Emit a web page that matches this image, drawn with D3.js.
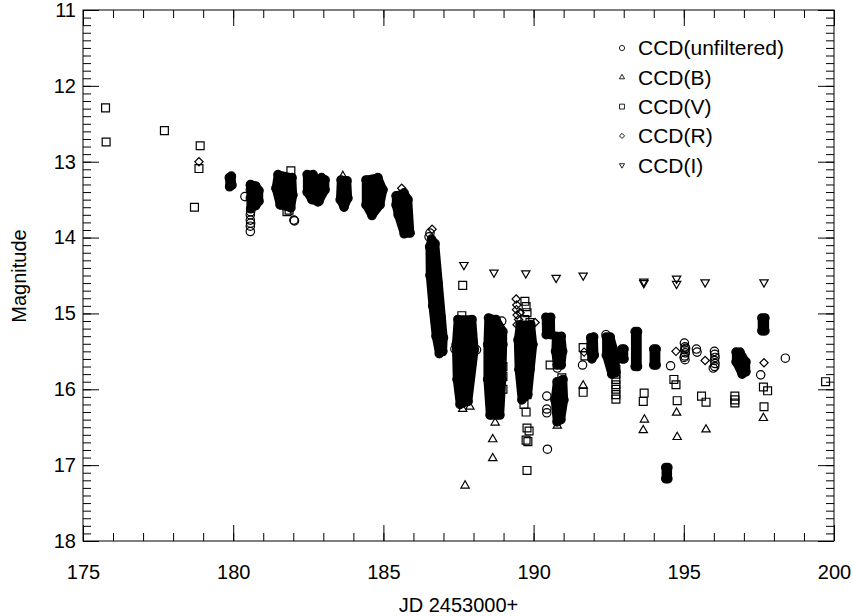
<!doctype html>
<html>
<head>
<meta charset="UTF-8">
<title>light curve</title>
<script src="https://d3js.org/d3.v7.min.js"></script>
<style>
  body{ margin:0; background:#fff; }
  svg text{ font-family: "Liberation Sans", Arial, Helvetica, sans-serif; font-size:20px; fill:#000; }
</style>
</head>
<body>
<svg width="854" height="616" id="svg1"></svg>
<script>
// axis setup
var xDomain = [175, 200];
var yDomain = [11, 18];
var xTicks = [175, 180, 185, 190, 195, 200];
var yTicks = [11, 12, 13, 14, 15, 16, 17, 18];
var xTitle = "JD 2453000+";
var yTitle = "Magnitude";
var legendLabels = ["CCD(unfiltered)", "CCD(B)", "CCD(V)", "CCD(R)", "CCD(I)"];

// unfiltered CCD: dense nightly runs (outline of the observations, [JD, mag])
var unfilteredRuns = [
  [[179.87,13.21],[179.94,13.19],[179.96,13.31],[179.88,13.33]],
  [[180.58,13.30],[180.75,13.32],[180.86,13.38],[180.86,13.52],[180.75,13.58],[180.58,13.62]],
  [[181.49,13.17],[181.42,13.35],[181.56,13.57],[181.92,13.61],[181.99,13.44],[181.96,13.21]],
  [[182.46,13.17],[182.66,13.17],[182.78,13.30],[182.82,13.53],[182.62,13.50],[182.46,13.40]],
  [[182.94,13.21],[183.06,13.24],[183.06,13.37],[182.86,13.52],[182.80,13.30]],
  [[183.59,13.24],[183.79,13.25],[183.82,13.48],[183.69,13.60],[183.56,13.50]],
  [[184.42,13.24],[184.82,13.21],[184.99,13.37],[184.89,13.57],[184.62,13.71],[184.42,13.57]],
  [[185.42,13.45],[185.69,13.41],[185.82,13.50],[185.89,13.94],[185.69,13.95],[185.49,13.70],[185.42,13.57]],
  [[186.60,14.02],[186.72,14.08],[186.82,14.60],[186.92,15.05],[187.00,15.32],[186.98,15.50],[186.86,15.53],[186.75,15.30],[186.64,14.90],[186.55,14.50],[186.54,14.12]],
  [[187.48,15.08],[187.95,15.08],[188.03,15.48],[187.88,15.87],[187.82,16.16],[187.55,16.20],[187.45,15.87],[187.42,15.41]],
  [[188.50,15.06],[188.75,15.08],[188.98,15.24],[188.98,15.41],[188.95,15.87],[188.88,16.34],[188.55,16.34],[188.47,15.87],[188.47,15.41]],
  [[189.55,15.15],[189.91,15.15],[189.98,15.41],[189.88,15.74],[189.81,16.07],[189.61,16.14],[189.51,15.74],[189.48,15.35]],
  [[190.41,15.05],[190.57,15.05],[190.58,15.28],[190.42,15.28]],
  [[190.75,15.30],[190.92,15.30],[190.97,15.50],[190.92,15.68],[190.78,15.68],[190.73,15.50]],
  [[190.78,15.90],[190.98,15.87],[191.01,16.14],[190.91,16.40],[190.78,16.43],[190.71,16.14]],
  [[191.90,15.32],[192.00,15.31],[192.02,15.55],[191.94,15.60],[191.90,15.50]],
  [[192.42,15.31],[192.55,15.31],[192.72,15.55],[192.74,15.78],[192.60,15.80],[192.42,15.55]],
  [[192.94,15.47],[193.01,15.47],[193.01,15.60],[192.94,15.60]],
  [[193.38,15.24],[193.46,15.24],[193.46,15.70],[193.38,15.70]],
  [[194.00,15.47],[194.08,15.47],[194.08,15.68],[194.00,15.68]],
  [[194.40,17.03],[194.47,17.03],[194.47,17.18],[194.40,17.18]],
  [[196.74,15.51],[196.87,15.51],[197.07,15.64],[197.07,15.77],[196.94,15.80],[196.74,15.64]],
  [[197.60,15.06],[197.70,15.06],[197.70,15.23],[197.60,15.23]]
];

// unfiltered CCD: single points
var unfiltered = [
  [180.57,13.31],[180.57,13.37],[180.57,13.48],[180.58,13.66],[180.57,13.70],[180.57,13.77],
  [180.58,13.81],[180.57,13.85],[180.57,13.92],[180.39,13.46],
  [182.02,13.77],[182.04,13.78],[186.52,13.99],[186.55,13.94],
  [187.38,15.47],[188.10,15.48],[188.94,15.10],
  [190.44,16.09],[190.44,16.26],[190.44,16.31],[190.46,16.79],[190.79,15.72],
  [191.63,15.68],[192.41,15.28],[194.56,15.69],
  [195.02,15.39],[195.04,15.44],[195.03,15.48],[195.05,15.52],[195.03,15.56],[195.04,15.61],
  [195.06,15.46],[195.01,15.58],[195.42,15.47],[195.44,15.51],
  [196.02,15.50],[196.03,15.54],[196.04,15.58],[196.02,15.62],[196.04,15.66],[196.03,15.70],[195.98,15.72],
  [197.56,15.81],[198.38,15.59]
];

var bandB = [
  [183.65,13.19],[186.90,15.52],[187.64,16.26],[187.88,16.23],[187.72,17.27],
  [188.70,16.36],[188.72,16.44],[188.64,16.66],[188.64,16.91],[190.79,16.48],
  [191.65,15.95],[193.69,16.40],[193.65,16.54],[194.76,16.31],[194.78,16.63],
  [195.74,16.53],[197.65,16.38]
];

var bandV = [
  [175.75,12.29],[175.77,12.74],[177.71,12.59],[178.90,12.79],[178.86,13.09],[178.71,13.60],
  [181.92,13.12],[181.79,13.66],[181.86,13.64],[186.88,15.50],[187.64,14.63],[187.61,15.03],
  [188.98,15.70],[188.98,15.83],[188.98,16.00],
  [189.71,14.84],[189.75,14.91],[189.78,14.99],[189.71,15.08],[189.88,15.12],
  [189.58,15.48],[189.65,15.74],[189.71,15.94],[189.78,16.07],[189.68,16.20],[189.75,16.30],
  [189.78,16.51],[189.85,16.55],[189.75,16.67],[189.81,16.69],[189.78,17.07],
  [190.55,15.68],[190.94,15.85],[191.65,15.45],[191.71,15.56],[191.65,16.04],
  [192.74,15.74],[192.74,15.80],[192.74,15.87],[192.74,15.94],[192.74,16.00],[192.74,16.07],[192.74,16.13],
  [193.68,16.05],[193.65,16.16],[194.67,15.87],[194.74,15.94],[194.78,16.15],
  [195.59,16.09],[195.74,16.17],[196.70,16.09],[196.70,16.14],[196.70,16.18],
  [197.65,15.97],[197.79,16.02],[197.67,16.23],[199.72,15.90]
];

var bandR = [
  [178.86,13.00],[185.61,13.35],[186.62,13.89],
  [189.42,14.81],[189.44,14.89],[189.43,14.95],[189.45,15.02],[189.50,15.08],[189.45,15.15],
  [190.05,15.12],[189.55,14.99],[191.68,15.51],[194.74,15.50],[195.71,15.62],[197.67,15.65]
];

var bandI = [
  [187.68,14.36],[188.68,14.46],[189.74,14.47],[190.75,14.53],[191.65,14.50],
  [193.67,14.58],[193.67,14.60],[194.76,14.54],[194.76,14.61],[195.71,14.59],[197.67,14.59]
];

var marginLeft = 83, marginTop = 10, w = 751, h = 531;
var svg = d3.select("#svg1");

var x = d3.scaleLinear().domain(xDomain).range([marginLeft, marginLeft + w]);
var y = d3.scaleLinear().domain(yDomain).range([marginTop, marginTop + h]);

// marker shapes
var circlePath = d3.symbol().type(d3.symbolCircle).size(55)();
var trianglePath = d3.symbol().type(d3.symbolTriangle).size(30)();
var squarePath = d3.symbol().type(d3.symbolSquare).size(62)();
var diamondPath = d3.symbol().type(d3.symbolSquare).size(34)();

var styles = [
  {path: circlePath, rot: 0},
  {path: trianglePath, rot: 0},
  {path: squarePath, rot: 0},
  {path: diamondPath, rot: 45},
  {path: trianglePath, rot: 180}
];

var plot = svg.append("g");

// dense runs: area covered by the overlapping markers
unfilteredRuns.forEach(function(run){
  var pts = run.map(function(d){ return [x(d[0]), y(d[1])]; });
  var hull = d3.polygonHull(pts);
  plot.append("path")
    .attr("d", "M" + hull.join("L") + "Z")
    .attr("fill", "#000")
    .attr("stroke", "#000")
    .attr("stroke-width", 8.4)
    .attr("stroke-linejoin", "round");
});

function drawPoints(data, st){
  plot.append("g").selectAll("path")
    .data(data)
    .enter().append("path")
    .attr("d", st.path)
    .attr("transform", function(d){
      return "translate(" + x(d[0]) + "," + y(d[1]) + ") rotate(" + st.rot + ")";
    })
    .attr("fill", "none")
    .attr("stroke", "#000")
    .attr("stroke-width", 1.2);
}

drawPoints(d3.merge(unfilteredRuns), styles[0]);
drawPoints(unfiltered, styles[0]);
drawPoints(bandB, styles[1]);
drawPoints(bandV, styles[2]);
drawPoints(bandR, styles[3]);
drawPoints(bandI, styles[4]);

// axes, ticks inward on all four sides
var yMinor = y.ticks(70);
var xMinor = x.ticks(25);

function tickAxis(axis, vals, size, labels){
  return axis.tickValues(vals).tickSize(-size).tickSizeOuter(0)
    .tickFormat(labels ? d3.format("d") : "");
}

svg.append("g").attr("transform", "translate(" + marginLeft + ",0)")
  .call(tickAxis(d3.axisLeft(y), yMinor, 8, false));
svg.append("g").attr("transform", "translate(" + marginLeft + ",0)")
  .call(tickAxis(d3.axisLeft(y), yTicks, 16, true).tickPadding(7));
svg.append("g").attr("transform", "translate(" + (marginLeft + w) + ",0)")
  .call(tickAxis(d3.axisRight(y), yMinor, 8, false));
svg.append("g").attr("transform", "translate(" + (marginLeft + w) + ",0)")
  .call(tickAxis(d3.axisRight(y), yTicks, 16, false));

svg.append("g").attr("transform", "translate(0," + (marginTop + h) + ")")
  .call(tickAxis(d3.axisBottom(x), xMinor, 8, false));
svg.append("g").attr("transform", "translate(0," + (marginTop + h) + ")")
  .call(tickAxis(d3.axisBottom(x), xTicks, 16, true).tickPadding(24));
svg.append("g").attr("transform", "translate(0," + marginTop + ")")
  .call(tickAxis(d3.axisTop(x), xMinor, 8, false));
svg.append("g").attr("transform", "translate(0," + marginTop + ")")
  .call(tickAxis(d3.axisTop(x), xTicks, 16, false));

svg.selectAll(".domain").remove();
svg.selectAll(".tick line").attr("stroke", "#000").attr("stroke-width", 1);
svg.selectAll(".tick text")
  .attr("font-family", "Liberation Sans, Arial, sans-serif")
  .attr("font-size", 20)
  .attr("fill", "#000");

svg.append("rect")
  .attr("x", marginLeft).attr("y", marginTop)
  .attr("width", w).attr("height", h)
  .attr("fill", "none")
  .attr("stroke", "#000")
  .attr("stroke-width", 1);

// titles
svg.append("text")
  .attr("x", marginLeft + w / 2).attr("y", 612)
  .attr("text-anchor", "middle")
  .text(xTitle);
svg.append("text")
  .attr("transform", "translate(26,276) rotate(-90)")
  .attr("text-anchor", "middle")
  .text(yTitle);

// legend
var legend = svg.append("g").attr("transform", "translate(622,48)");
legendLabels.forEach(function(lab, i){
  var row = legend.append("g").attr("transform", "translate(0," + (i * 29.3) + ")");
  row.append("path")
    .attr("d", styles[i].path)
    .attr("transform", "rotate(" + styles[i].rot + ") scale(0.62)")
    .attr("fill", "none")
    .attr("stroke", "#000")
    .attr("stroke-width", 1.4);
  row.append("text")
    .attr("x", 16).attr("y", 0)
    .attr("dy", "0.35em")
    .style("font-size", "21px")
    .text(lab);
});
</script>
</body>
</html>
